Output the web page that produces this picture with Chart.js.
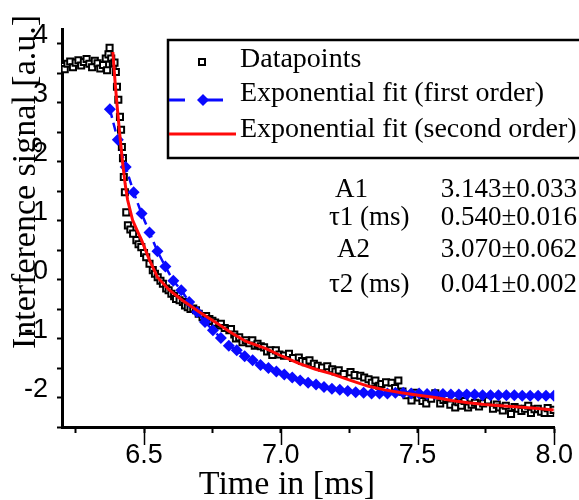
<!DOCTYPE html>
<html>
<head>
<meta charset="utf-8">
<script src="https://cdn.jsdelivr.net/npm/chart.js@4/dist/chart.umd.min.js"></script>
<style>
  html, body { margin: 0; padding: 0; background: #fff; }
  #wrap { width: 579px; height: 500px; position: relative; }
</style>
</head>
<body>
<div id="wrap"><canvas id="chart"></canvas></div>
<script>
// measured data (time in ms, signal in a.u.)
const dataTimes = [
  6.200, 6.210, 6.220, 6.230, 6.240, 6.250, 6.260, 6.270, 6.280, 6.290,
  6.300, 6.310, 6.320, 6.330, 6.340, 6.350, 6.360, 6.365, 6.370, 6.374,
  6.380, 6.386, 6.392, 6.397, 6.401, 6.406, 6.412, 6.416, 6.419, 6.423,
  6.426, 6.430, 6.435, 6.441, 6.450, 6.460, 6.472, 6.480, 6.490, 6.500,
  6.508, 6.520, 6.532, 6.540, 6.550, 6.560, 6.569, 6.581, 6.590, 6.600,
  6.610, 6.617, 6.630, 6.642, 6.650, 6.660, 6.670, 6.680, 6.690, 6.700,
  6.714, 6.727, 6.739, 6.750, 6.760, 6.775, 6.781, 6.795, 6.812, 6.818,
  6.830, 6.836, 6.848, 6.860, 6.872, 6.885, 6.896, 6.905, 6.915, 6.927,
  6.939, 6.950, 6.963, 6.969, 6.982, 6.995, 7.012, 7.030, 7.045, 7.066,
  7.078, 7.091, 7.105, 7.121, 7.135, 7.151, 7.170, 7.188, 7.200, 7.212,
  7.230, 7.255, 7.270, 7.291, 7.305, 7.321, 7.333, 7.346, 7.360, 7.368,
  7.385, 7.405, 7.418, 7.430, 7.445, 7.460, 7.478, 7.490, 7.503, 7.518,
  7.532, 7.550, 7.565, 7.583, 7.595, 7.605, 7.620, 7.638, 7.650, 7.660,
  7.672, 7.685, 7.698, 7.710, 7.725, 7.740, 7.758, 7.776, 7.790, 7.800,
  7.812, 7.823, 7.842, 7.855, 7.867, 7.880, 7.893, 7.905, 7.915, 7.928,
  7.940, 7.952, 7.965, 7.976, 7.987, 7.998
];
const dataValues = [
  3.62, 3.57, 3.66, 3.70, 3.60, 3.68, 3.72, 3.63, 3.69, 3.74,
  3.66, 3.60, 3.71, 3.67, 3.58, 3.64, 3.75, 3.55, 3.82, 3.93,
  3.75, 3.66, 3.68, 3.52, 3.27, 3.05, 2.76, 2.54, 2.25, 2.06,
  1.74, 1.48, 1.14, 0.92, 0.85, 0.78, 0.67, 0.60, 0.55, 0.45,
  0.38, 0.27, 0.16, 0.10, 0.04, -0.02, -0.07, -0.15, -0.18, -0.24,
  -0.28, -0.33, -0.35, -0.38, -0.44, -0.47, -0.50, -0.49, -0.52, -0.58,
  -0.64, -0.62, -0.67, -0.70, -0.73, -0.78, -0.75, -0.82, -0.86, -0.84,
  -0.93, -1.00, -0.98, -1.06, -1.03, -1.08, -1.03, -1.12, -1.09, -1.13,
  -1.15, -1.22, -1.20, -1.28, -1.20, -1.27, -1.29, -1.26, -1.33, -1.32,
  -1.38, -1.40, -1.37, -1.43, -1.46, -1.49, -1.47, -1.52, -1.56, -1.54,
  -1.60, -1.57, -1.62, -1.63, -1.66, -1.69, -1.75, -1.71, -1.80, -1.77,
  -1.74, -1.75, -1.84, -1.71, -1.90, -1.96, -2.05, -1.92, -2.00, -2.06,
  -2.10, -2.02, -1.93, -2.10, -2.04, -2.02, -2.12, -2.17, -2.08, -2.14,
  -2.06, -2.17, -2.12, -2.09, -2.15, -2.10, -2.05, -2.19, -2.12, -2.17,
  -2.22, -2.14, -2.28, -2.16, -2.19, -2.23, -2.19, -2.14, -2.26, -2.20,
  -2.19, -2.24, -2.26, -2.18, -2.26, -2.21
];

// first order exponential fit
const fit1Times = [
  6.375, 6.404, 6.433, 6.462, 6.491, 6.520, 6.549, 6.578, 6.607, 6.636,
  6.665, 6.694, 6.723, 6.752, 6.781, 6.810, 6.839, 6.868, 6.897, 6.926,
  6.955, 6.984, 7.013, 7.042, 7.071, 7.100, 7.129, 7.158, 7.187, 7.216,
  7.245, 7.274, 7.303, 7.332, 7.361, 7.390, 7.419, 7.448, 7.477, 7.506,
  7.535, 7.564, 7.593, 7.622, 7.651, 7.680, 7.709, 7.738, 7.767, 7.796,
  7.825, 7.854, 7.883, 7.912, 7.941, 7.970, 7.999
];
const fit1Values = [
  2.89, 2.37, 1.91, 1.48, 1.12, 0.80, 0.48, 0.22, -0.02, -0.18,
  -0.38, -0.55, -0.72, -0.86, -0.99, -1.12, -1.20, -1.30, -1.37, -1.45,
  -1.50, -1.56, -1.61, -1.66, -1.71, -1.75, -1.78, -1.82, -1.85, -1.87,
  -1.89, -1.91, -1.92, -1.93, -1.93, -1.93, -1.92, -1.92, -1.93, -1.93,
  -1.94, -1.94, -1.94, -1.95, -1.95, -1.95, -1.95, -1.96, -1.96, -1.96,
  -1.96, -1.96, -1.97, -1.97, -1.97, -1.97, -1.97
];

// second order exponential fit
const fit2Times = [
  6.386, 6.395, 6.404, 6.413, 6.422, 6.431, 6.440, 6.458, 6.475, 6.491,
  6.520, 6.549, 6.593, 6.640, 6.702, 6.764, 6.822, 6.873, 6.946, 7.005,
  7.066, 7.127, 7.187, 7.255, 7.321, 7.380, 7.441, 7.503, 7.565, 7.625,
  7.685, 7.745, 7.805, 7.870, 7.929, 7.998
];
const fit2Values = [
  3.86, 3.30, 2.82, 2.38, 1.97, 1.62, 1.35, 1.01, 0.83, 0.67,
  0.33, 0.04, -0.18, -0.35, -0.55, -0.73, -0.91, -1.05, -1.17, -1.30,
  -1.42, -1.52, -1.60, -1.71, -1.81, -1.87, -1.92, -1.96, -2.00, -2.05,
  -2.09, -2.12, -2.14, -2.16, -2.18, -2.21
];

const seriesNames = ['Datapoints', 'Exponential fit (first order)', 'Exponential fit (second order)'];

const xTickValues = [6.25, 6.5, 6.75, 7.0, 7.25, 7.5, 7.75, 8.0];
const xTickLabels = ['', '6.5', '', '7.0', '', '7.5', '', '8.0'];
const yTickValues = [-2.5, -2, -1.5, -1, -0.5, 0, 0.5, 1, 1.5, 2, 2.5, 3, 3.5, 4];
const yTickLabels = ['', '-2', '', '-1', '', '0', '', '1', '', '2', '', '3', '', '4'];

const paramNames = ['A1', 'τ1 (ms)', 'A2', 'τ2 (ms)'];
const paramValues = ['3.143±0.033', '0.540±0.016', '3.070±0.062', '0.041±0.002'];

const xTitle = 'Time in [ms]';
const yTitle = 'Interference signal [a.u.]';

const SERIF = '"Liberation Serif", "Times New Roman", serif';
const SANS = '"Liberation Sans", Arial, sans-serif';
const BLUE = '#0a0aff';
const RED = '#ff0a0a';

function pairs(xs, ys) {
  return xs.map((x, i) => ({ x: x, y: ys[i] }));
}

// titles, legend box and fit parameter table
const overlayPlugin = {
  id: 'overlay',
  afterDraw(chart) {
    const ctx = chart.ctx;
    const xs = chart.scales.x;
    ctx.save();

    // long major ticks on the time axis
    ctx.strokeStyle = '#000';
    ctx.lineWidth = 1.5;
    xTickValues.forEach((v, i) => {
      if (!xTickLabels[i]) return;
      const px = Math.round(xs.getPixelForValue(v)) + 0.5;
      ctx.beginPath();
      ctx.moveTo(px, chart.chartArea.bottom);
      ctx.lineTo(px, chart.chartArea.bottom + 18);
      ctx.stroke();
    });

    // axis titles
    ctx.fillStyle = '#000';
    ctx.font = '34px ' + SERIF;
    ctx.textAlign = 'center';
    ctx.textBaseline = 'alphabetic';
    ctx.fillText(xTitle, 287, 494);
    ctx.save();
    ctx.translate(35, 182);
    ctx.rotate(-Math.PI / 2);
    ctx.font = '34px ' + SERIF;
    ctx.fillText(yTitle, 0, 0);
    ctx.restore();

    // legend
    ctx.lineWidth = 2.5;
    ctx.strokeStyle = '#000';
    ctx.strokeRect(168, 40, 430, 118);
    ctx.font = '28px ' + SERIF;
    ctx.textAlign = 'left';
    ctx.fillText(seriesNames[0], 240, 67);
    ctx.fillText(seriesNames[1], 240, 101);
    ctx.fillText(seriesNames[2], 240, 137);

    ctx.fillStyle = '#fff';
    ctx.lineWidth = 2;
    ctx.fillRect(199, 59, 6, 6);
    ctx.strokeRect(199, 59, 6, 6);

    ctx.strokeStyle = BLUE;
    ctx.lineWidth = 3;
    ctx.beginPath();
    ctx.moveTo(169, 100); ctx.lineTo(185, 100);
    ctx.moveTo(203, 100); ctx.lineTo(223, 100);
    ctx.stroke();
    ctx.fillStyle = BLUE;
    ctx.beginPath();
    ctx.moveTo(203, 94); ctx.lineTo(209, 100); ctx.lineTo(203, 106); ctx.lineTo(197, 100);
    ctx.closePath();
    ctx.fill();

    ctx.strokeStyle = RED;
    ctx.beginPath();
    ctx.moveTo(169, 134); ctx.lineTo(236, 134);
    ctx.stroke();

    // fit parameters
    ctx.fillStyle = '#000';
    ctx.font = '27px ' + SERIF;
    const rowY = [197, 225, 257, 292];
    const nameX = [335, 329, 337, 329];
    paramNames.forEach((name, i) => {
      ctx.textAlign = 'left';
      ctx.fillText(name, nameX[i], rowY[i]);
      ctx.textAlign = 'right';
      ctx.fillText(paramValues[i], 577, rowY[i]);
    });

    ctx.restore();
  }
};

function buildChart() {
  const el = document.getElementById('chart');
  return new Chart(el, {
    type: 'scatter',
    data: {
      datasets: [
        {
          label: seriesNames[2],
          data: pairs(fit2Times, fit2Values),
          showLine: true,
          borderColor: RED,
          borderWidth: 3,
          pointRadius: 0,
          tension: 0,
          order: 1
        },
        {
          label: seriesNames[1],
          data: pairs(fit1Times, fit1Values),
          showLine: true,
          borderColor: BLUE,
          backgroundColor: BLUE,
          borderWidth: 2.5,
          borderDash: [9, 5],
          pointStyle: 'rectRot',
          pointRadius: 6,
          pointBorderWidth: 0,
          tension: 0,
          order: 2
        },
        {
          label: seriesNames[0],
          data: pairs(dataTimes, dataValues),
          showLine: false,
          borderColor: '#000',
          backgroundColor: '#fff',
          pointStyle: 'rect',
          pointRadius: 4.3,
          pointBorderWidth: 2,
          order: 3
        }
      ]
    },
    options: {
      responsive: true,
      maintainAspectRatio: false,
      animation: false,
      layout: { padding: { top: 29, right: 23, left: 0, bottom: 0 } },
      plugins: {
        legend: { display: false },
        tooltip: { enabled: false }
      },
      scales: {
        x: {
          type: 'linear',
          min: 6.2,
          max: 8.0,
          afterFit: (s) => { s.height = 73; },
          afterBuildTicks: (s) => { s.ticks = xTickValues.map((v) => ({ value: v })); },
          border: { color: '#000', width: 3 },
          grid: { drawOnChartArea: false, color: '#000', tickLength: 6, tickWidth: 2 },
          ticks: {
            autoSkip: false,
            maxRotation: 0,
            padding: 6,
            color: '#000',
            font: { family: SANS, size: 27 },
            callback: (v, i) => xTickLabels[i]
          }
        },
        y: {
          type: 'linear',
          min: -2.5,
          max: 4.25,
          afterFit: (s) => { s.width = 62; },
          afterBuildTicks: (s) => { s.ticks = yTickValues.map((v) => ({ value: v })); },
          border: { color: '#000', width: 3 },
          grid: { drawOnChartArea: false, color: '#000', tickLength: 5, tickWidth: 2 },
          ticks: {
            autoSkip: false,
            padding: 9,
            labelOffset: -8,
            color: '#000',
            font: { family: SANS, size: 27 },
            callback: (v, i) => yTickLabels[i]
          }
        }
      }
    },
    plugins: [overlayPlugin]
  });
}

window.onload = buildChart;
</script>
</body>
</html>
